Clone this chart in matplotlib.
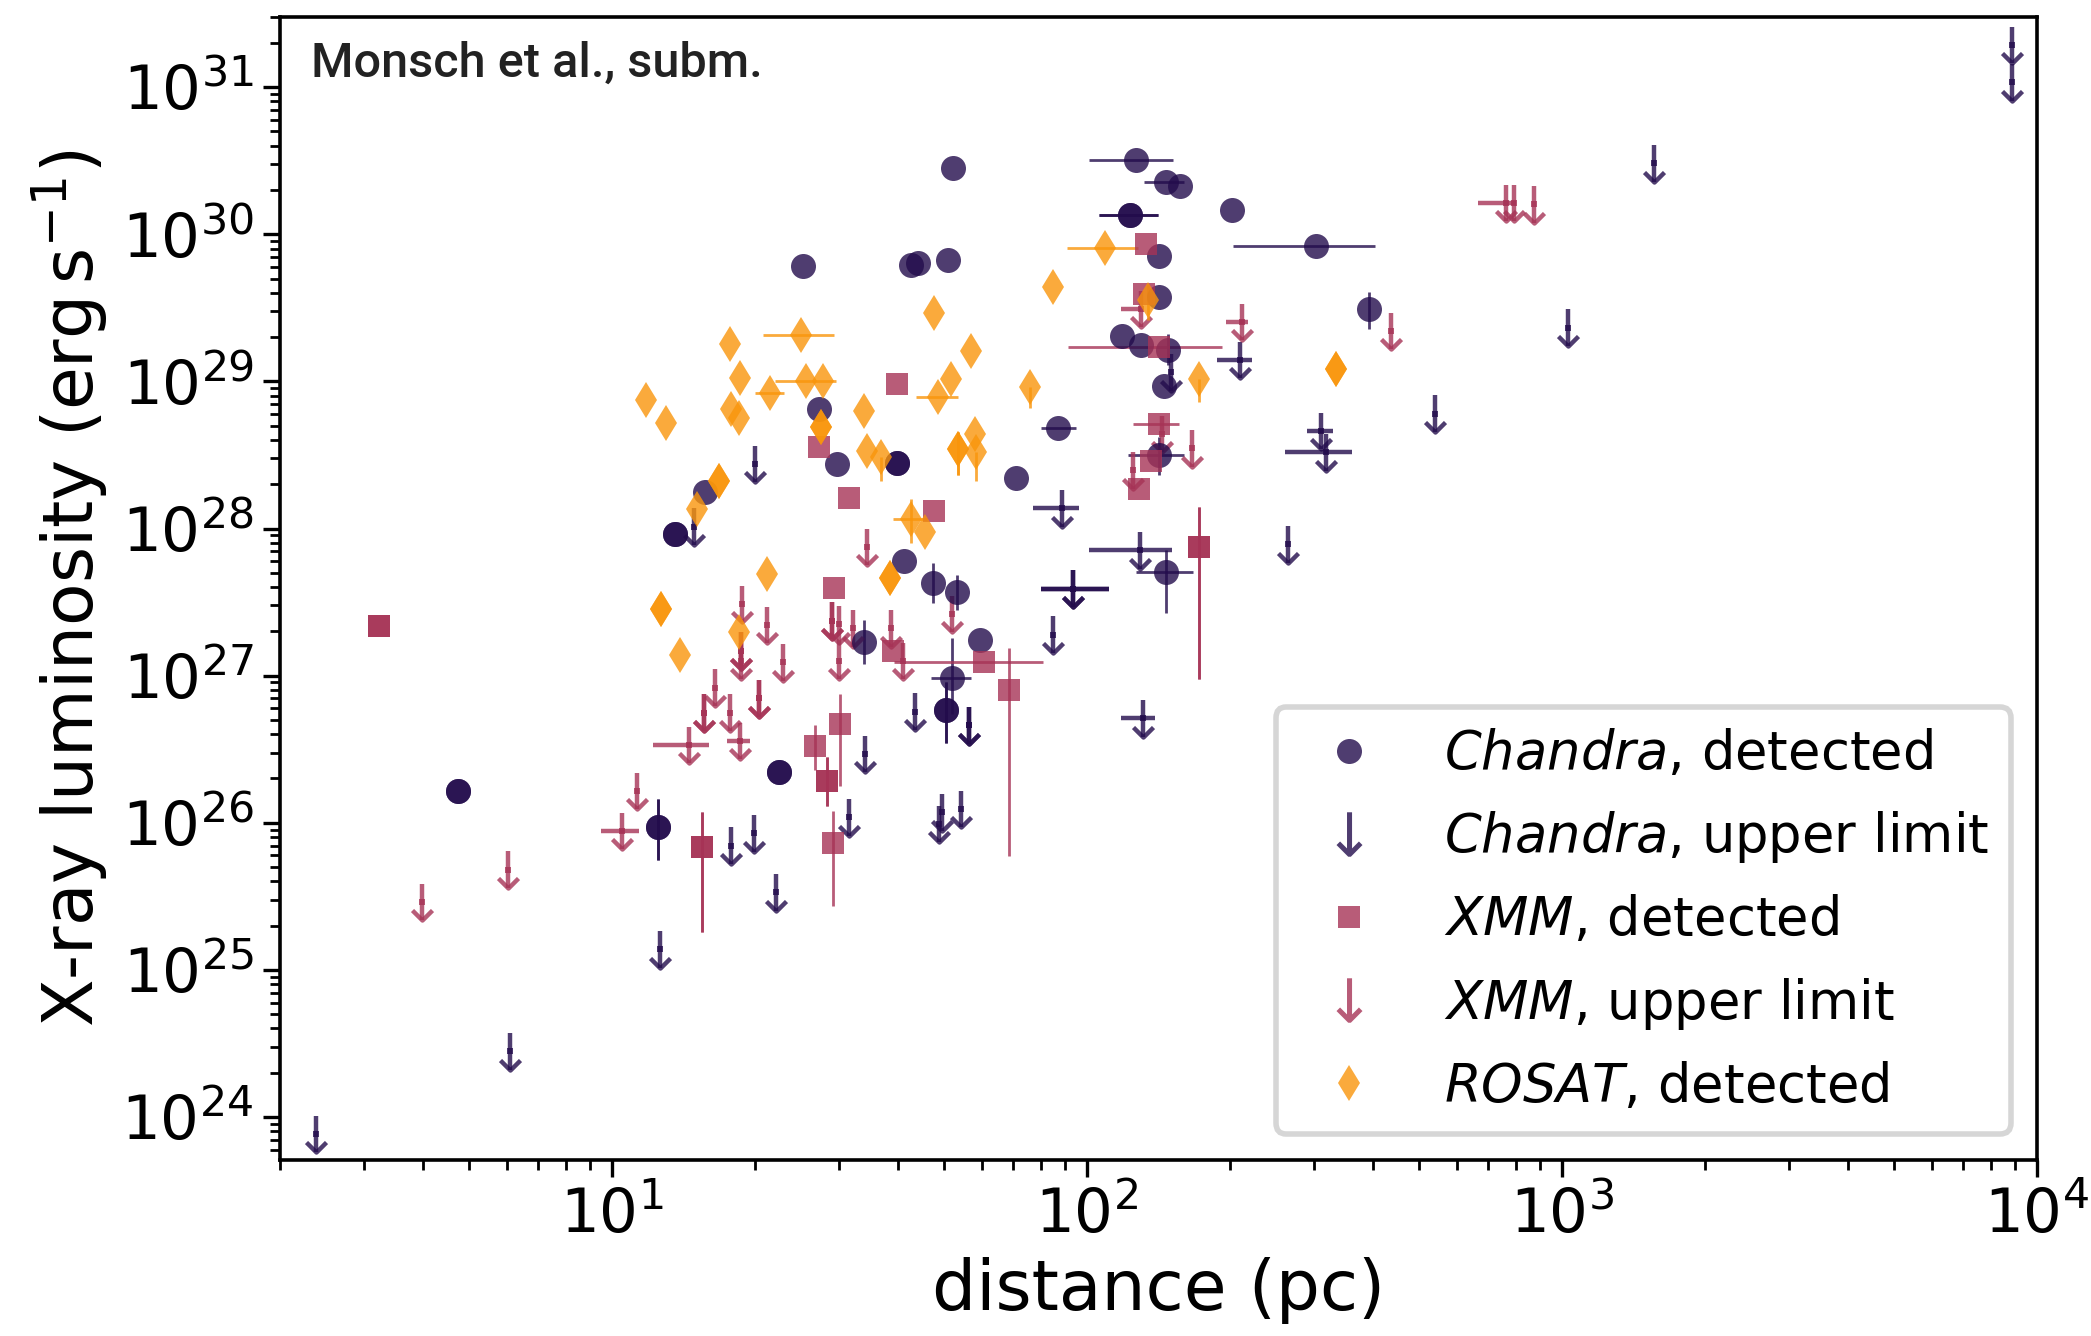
import numpy as np
import matplotlib
matplotlib.use('Agg')
import matplotlib.pyplot as plt
from matplotlib.lines import Line2D
from matplotlib.path import Path

# ---- Chandra detections: distance (pc), Lx (erg/s), error bounds (None = no bar)
ch_det_d = [52.1, 126.6, 146.6, 157, 202, 123.3, 303, 141.6, 25.3, 42.5, 44.0, 50.9,
            141.9, 393, 118.6, 130, 148, 145.5, 27.3, 29.8, 39.8, 70.9, 86.7, 141.6,
            15.7, 13.6, 41.1, 47.3, 53.2, 33.9, 59.6, 51.9, 50.6, 22.5, 12.5, 4.75, 146.9]
ch_det_L = [2.80e30, 3.22e30, 2.25e30, 2.13e30, 1.47e30, 1.35e30, 8.3e29, 7.1e29, 6.05e29,
            6.2e29, 6.4e29, 6.7e29, 3.74e29, 3.09e29, 2.02e29, 1.78e29, 1.64e29, 9.3e28,
            6.5e28, 2.75e28, 2.78e28, 2.21e28, 4.84e28, 3.14e28, 1.77e28, 9.2e27, 6.0e27,
            4.25e27, 3.72e27, 1.70e27, 1.76e27, 9.7e26, 5.8e26, 2.23e26, 9.3e25, 1.64e26, 5.05e27]
ch_det_dlo = [None, 101, 132, None, None, 106, 203, None, None, None, None, None,
              None, None, None, None, None, None, None, None, None, None, 80, 122,
              None, None, None, None, None, None, None, 47, None, None, None, None, 127]
ch_det_dhi = [None, 152, 160, None, None, 141, 404, None, None, None, None, None,
              None, None, None, None, None, None, None, None, None, None, 95, 160,
              None, None, None, None, None, None, None, 57, None, None, None, None, 167]
ch_det_Llo = [None] * 13 + [2.28e29, None, None, 1.3e29] + [None] * 6 + [2.3e28] + \
             [None] * 3 + [3.1e27, 2.8e27, 1.2e27, None, 5.5e26, 3.5e26, None, 5.6e25, None, 2.67e27]
ch_det_Lhi = [None] * 13 + [4.05e29, None, None, 2.1e29] + [None] * 6 + [4.2e28] + \
             [None] * 3 + [5.8e27, 4.8e27, 2.4e27, None, 1.8e27, 9.0e26, None, 1.45e26, None, 7.2e27]
ch_det_dup = [5, 20, 25, 32, 33, 34, 35]

# ---- Chandra upper limits
ch_ul_d = [8843, 8843, 1560, 1031, 541, 311, 318, 264.5, 209.5, 150, 129.4, 93.3, 85, 88.7,
           131.4, 20.0, 14.9, 43.5, 56.5, 34.1, 31.6, 48.9, 49.6, 54.3, 17.8, 19.9, 22.1,
           12.6, 6.1, 2.38]
ch_ul_L = [1.94e31, 1.08e31, 3.03e30, 2.32e29, 6.05e28, 4.6e28, 3.3e28, 7.8e27, 1.40e29,
           1.15e29, 7.1e27, 3.9e27, 1.9e27, 1.37e28, 5.13e26, 2.75e28, 1.03e28, 5.7e26,
           4.6e26, 2.93e26, 1.09e26, 9.8e25, 1.18e26, 1.24e26, 7.0e25, 8.5e25, 3.36e25,
           1.38e25, 2.8e24, 7.7e23]
ch_ul_dlo = [None] * 5 + [290, 261, None, 188, None, 101, 80, None, 77, 118] + [None] * 15
ch_ul_dhi = [None] * 5 + [330, 362, None, 222, None, 151, 111, None, 96, 139] + [None] * 15
ch_ul_dup = [11, 18]

# ---- XMM detections
xmm_det_d = [3.23, 39.8, 27.3, 31.6, 47.7, 29.3, 39.0, 60.8, 68.6, 172, 30.2, 26.8, 28.3,
             29.2, 15.5, 132.8, 141.6, 132, 142, 136.4, 128.5]
xmm_det_L = [2.16e27, 9.6e28, 3.57e28, 1.61e28, 1.32e28, 3.95e27, 1.48e27, 1.23e27, 8.0e26,
             7.5e27, 4.69e26, 3.3e26, 1.91e26, 7.3e25, 6.8e25, 8.55e29, 1.71e29, 3.9e29,
             5.15e28, 2.87e28, 1.86e28]
xmm_det_dlo = [None] * 7 + [39.3] + [None] * 8 + [91, None, 125, None, None]
xmm_det_dhi = [None] * 7 + [80.7] + [None] * 8 + [192, None, 156, None, None]
xmm_det_Llo = [None] * 8 + [5.9e25, 9.5e26, 1.79e26, 2.3e26, 1.3e26, 2.7e25, 1.8e25] + [None] * 6
xmm_det_Lhi = [None] * 8 + [1.54e27, 1.4e28, 7.5e26, 4.6e26, 2.8e26, 1.2e26, 1.18e26] + [None] * 6
xmm_det_dup = [0, 9, 12, 14]

# ---- XMM upper limits
xmm_ul_d = [763, 792, 873, 436, 212, 130, 144, 166, 125, 34.4, 18.8, 21.2, 18.7, 18.7, 22.9,
            16.5, 15.6, 17.7, 20.4, 14.5, 18.6, 11.3, 10.5, 29.0, 30.0, 30.0, 32.1, 38.6,
            40.9, 52.0, 6.04, 3.98]
xmm_ul_L = [1.63e30, 1.63e30, 1.6e30, 2.21e29, 2.54e29, 3.1e29, 4.4e28, 3.5e28, 2.48e28,
            7.5e27, 3.08e27, 2.21e27, 1.48e27, 1.26e27, 1.23e27, 8.3e26, 5.6e26, 5.6e26,
            7.0e26, 3.39e26, 3.6e26, 1.65e26, 8.8e25, 2.37e27, 2.24e27, 1.26e27, 2.1e27,
            2.1e27, 1.26e27, 2.63e27, 4.8e25, 2.9e25]
xmm_ul_dlo = [667, None, None, None, 196, 118] + [None] * 13 + [12.2, 17.5, None, 9.5] + [None] * 9
xmm_ul_dhi = [800, None, None, None, 218, 130] + [None] * 13 + [16.0, 19.5, None, 11.4] + [None] * 9
xmm_ul_dup = [12, 16, 18, 23]

# ---- ROSAT detections
ros_det_d = [84.9, 47.6, 57.0, 25.0, 17.7, 18.6, 25.6, 27.8, 21.5, 11.8, 13.0, 17.8, 18.5,
             34.0, 51.7, 48.5, 27.6, 34.5, 36.8, 53.6, 58.1, 58.3, 75.9, 16.8, 15.1, 42.6,
             45.5, 21.2, 38.4, 12.7, 13.9, 18.5, 109.3, 134.2, 172.1, 334]
ros_det_L = [4.38e29, 2.92e29, 1.61e29, 2.08e29, 1.8e29, 1.05e29, 1.0e29, 1.0e29, 8.3e28,
             7.5e28, 5.2e28, 6.5e28, 5.6e28, 6.25e28, 1.04e29, 7.8e28, 4.9e28, 3.39e28,
             3.05e28, 3.48e28, 4.4e28, 3.3e28, 9.15e28, 2.12e28, 1.36e28, 1.16e28, 9.4e27,
             4.9e27, 4.6e27, 2.85e27, 1.39e27, 1.97e27, 8.1e29, 3.56e29, 1.04e29, 1.22e29]
ros_det_dlo = [None] * 3 + [20.8, None, None, 22.0, None, 20.0] + [None] * 6 + [43.6] + \
              [None] * 9 + [39.0] + [None] * 6 + [90.8, None, None, None]
ros_det_dhi = [None] * 3 + [29.4, None, None, 29.6, None, 23.0] + [None] * 6 + [53.4] + \
              [None] * 9 + [46.0] + [None] * 6 + [128, None, None, None]
ros_det_Llo = [None] * 18 + [2.1e28, 2.3e28, None, 2.1e28, 6.6e28, None, None, 8.0e27] + \
              [None] * 7 + [2.6e29, 7.2e28, None]
ros_det_Lhi = [None] * 18 + [3.05e28, 4.5e28, None, 3.3e28, 9.15e28, None, None, 1.6e28] + \
              [None] * 7 + [4.6e29, 1.04e29, None]
ros_det_dup = [16, 19, 23, 28, 29, 35]

C_CHANDRA = '#230c4c'
C_XMM = '#a63356'
C_ROSAT = '#f9950b'
ALPHA = 0.8

# open chevron with its tip at the data point
CHEVRON = Path([[-1.0, 1.0], [0.0, 0.0], [1.0, 1.0]],
               [Path.MOVETO, Path.LINETO, Path.LINETO])


def to_err(v, lo, hi):
    v = np.asarray(v, float)
    lo = np.array([np.nan if x is None else x for x in lo], float)
    hi = np.array([np.nan if x is None else x for x in hi], float)
    return np.vstack([np.nan_to_num(v - lo), np.nan_to_num(hi - v)])


def draw_det(ax, d, L, dlo, dhi, Llo, Lhi, marker, ms, color, dup):
    d, L = np.asarray(d, float), np.asarray(L, float)
    xe, ye = to_err(d, dlo, dhi), to_err(L, Llo, Lhi)
    for sel in [np.arange(len(d)), np.array(dup, int)]:
        ax.errorbar(d[sel], L[sel], xerr=xe[:, sel], yerr=ye[:, sel], fmt=marker, ms=ms,
                    color=color, alpha=ALPHA, elinewidth=1.0, capsize=0, mew=0)


def draw_ul(ax, d, L, dlo, dhi, color, dup):
    d, L = np.asarray(d, float), np.asarray(L, float)
    xe = to_err(d, dlo, dhi)
    top, bot = L * 1.33, L * 0.75
    for sel in [np.arange(len(d)), np.array(dup, int)]:
        ax.errorbar(d[sel], L[sel], xerr=xe[:, sel], yerr=[L[sel] - bot[sel], top[sel] - L[sel]],
                    fmt='s', ms=2.5, color=color, alpha=ALPHA, elinewidth=1.6, capsize=0, mew=0)
        ax.plot(d[sel], bot[sel], ls='none', marker=CHEVRON, ms=7.2, mew=1.6,
                mfc='none', mec=color, alpha=ALPHA)


plt.rcParams['mathtext.fontset'] = 'dejavusans'
fig = plt.figure(figsize=(2091 / 200, 1336 / 200), dpi=200)
ax = fig.add_axes([0.1339, 0.1317, 0.8403, 0.8556])

draw_det(ax, ch_det_d, ch_det_L, ch_det_dlo, ch_det_dhi, ch_det_Llo, ch_det_Lhi, 'o', 9, C_CHANDRA, ch_det_dup)
draw_ul(ax, ch_ul_d, ch_ul_L, ch_ul_dlo, ch_ul_dhi, C_CHANDRA, ch_ul_dup)
draw_det(ax, xmm_det_d, xmm_det_L, xmm_det_dlo, xmm_det_dhi, xmm_det_Llo, xmm_det_Lhi, 's', 8, C_XMM, xmm_det_dup)
draw_ul(ax, xmm_ul_d, xmm_ul_L, xmm_ul_dlo, xmm_ul_dhi, C_XMM, xmm_ul_dup)
draw_det(ax, ros_det_d, ros_det_L, ros_det_dlo, ros_det_dhi, ros_det_Llo, ros_det_Lhi, 'd', 9.4, C_ROSAT, ros_det_dup)

ax.set_xscale('log')
ax.set_yscale('log')
ax.set_xlim(2.0, 1e4)
ax.set_ylim(5.1e23, 3e31)
ax.set_xlabel('distance (pc)', fontsize=25)
ax.set_ylabel(r'X-ray luminosity (erg$\,$s$^{-1}$)', fontsize=25)
ax.tick_params(which='major', labelsize=22, length=6, width=1.2)
ax.tick_params(which='minor', length=3.5, width=1.0)
for s in ax.spines.values():
    s.set_linewidth(1.3)

ax.text(0.0176, 0.979, 'Monsch et al., subm.', transform=ax.transAxes, va='top', ha='left',
        fontsize=17.5, fontweight='medium', color='#222222', family=['Roboto', 'DejaVu Sans'])

handles = [
    Line2D([], [], ls='none', marker='o', ms=9, mew=0, color=C_CHANDRA, alpha=ALPHA),
    Line2D([], [], ls='none', marker=r'$\downarrow$', ms=16, mew=0, color=C_CHANDRA, alpha=ALPHA),
    Line2D([], [], ls='none', marker='s', ms=8, mew=0, color=C_XMM, alpha=ALPHA),
    Line2D([], [], ls='none', marker=r'$\downarrow$', ms=16, mew=0, color=C_XMM, alpha=ALPHA),
    Line2D([], [], ls='none', marker='d', ms=9.4, mew=0, color=C_ROSAT, alpha=ALPHA),
]
labels = [r'$\it{Chandra}$, detected', r'$\it{Chandra}$, upper limit',
          r'$\it{XMM}$, detected', r'$\it{XMM}$, upper limit', r'$\it{ROSAT}$, detected']
leg = ax.legend(handles, labels, loc='lower right', fontsize=19, numpoints=1, labelspacing=0.55)
leg.get_frame().set_linewidth(2.0)

fig.savefig('out.png', dpi=200)
